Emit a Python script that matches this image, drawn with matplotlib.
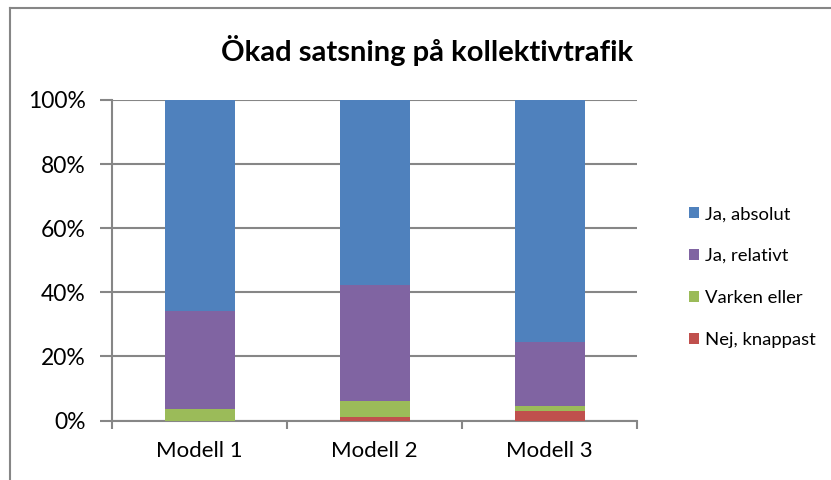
import numpy as np
import matplotlib
matplotlib.use('Agg')
import matplotlib.pyplot as plt
from matplotlib.ticker import PercentFormatter
from matplotlib.lines import Line2D

# Data (percent of answers)
models = ['Modell 1', 'Modell 2', 'Modell 3']
nej_knappast = [0.0, 1.1, 2.9]
varken_eller = [3.7, 5.0, 1.6]
ja_relativt = [30.5, 36.1, 20.0]
ja_absolut = [65.8, 57.8, 75.5]

series = [
    ('Nej, knappast', nej_knappast, '#c0504d'),
    ('Varken eller', varken_eller, '#9bbb59'),
    ('Ja, relativt', ja_relativt, '#8064a2'),
    ('Ja, absolut', ja_absolut, '#4f81bd'),
]

plt.rcParams['font.family'] = ['Lato', 'DejaVu Sans']

fig = plt.figure(figsize=(8.31, 4.8), dpi=100)
ax = fig.add_axes([112 / 831, 1 - 420.5 / 480, 525 / 831, 320.5 / 480])

x = np.arange(len(models))
bottom = np.zeros(len(models))
handles = []
for name, vals, color in series:
    vals = np.array(vals)
    b = ax.bar(x, vals, 0.4, bottom=bottom, color=color, label=name, zorder=3)
    bottom = bottom + vals
    handles.append(b)

ax.set_xlim(-0.5, 2.5)
ax.set_ylim(0, 100)
ax.set_yticks(np.arange(0, 101, 20))
ax.yaxis.set_major_formatter(PercentFormatter(decimals=0))
ax.set_xticks(x)
ax.set_xticklabels(models)
ax.set_xticks([-0.5, 0.5, 1.5, 2.5], minor=True)
ax.tick_params(axis='x', which='major', length=0, labelsize=16, pad=15)
ax.tick_params(axis='x', which='minor', length=6, width=1.5, color='#868686')
ax.tick_params(axis='y', length=9, width=1.5, color='#868686', labelsize=16.5, pad=10)

ax.grid(axis='y', color='#868686', linewidth=1.5, zorder=0)
for s in ['top', 'right']:
    ax.spines[s].set_visible(False)
for s in ['left', 'bottom']:
    ax.spines[s].set_color('#868686')
    ax.spines[s].set_linewidth(1.5)

fig.text(427 / 831, 1 - 50 / 480, 'Ökad satsning på kollektivtrafik',
         ha='center', va='center', fontsize=21, fontweight='bold')

leg = fig.legend(handles[::-1], [s[0] for s in series][::-1],
                 loc='center left', bbox_to_anchor=(672 / 831, 1 - 277 / 480),
                 frameon=False, fontsize=13.3, handlelength=0.55, handleheight=0.55,
                 handletextpad=0.35, labelspacing=1.4)

# outer chart border
fig.add_artist(Line2D([9.5 / 831, 9.5 / 831], [0, 1 - 7.5 / 480], color='#868686', lw=1.5))
fig.add_artist(Line2D([9.5 / 831, 1], [1 - 7.5 / 480, 1 - 7.5 / 480], color='#868686', lw=1.5))

fig.savefig('out.png', dpi=100)
